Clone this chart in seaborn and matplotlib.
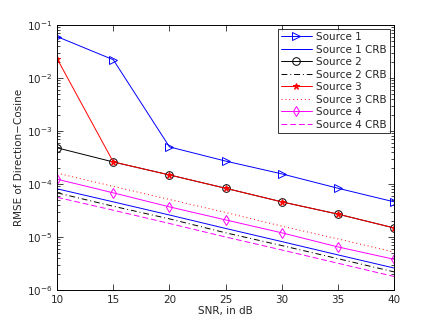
import numpy as np
import pandas as pd
import seaborn as sns
import matplotlib.pyplot as plt
from matplotlib.ticker import LogLocator, NullFormatter, MultipleLocator

snr = [10, 15, 20, 25, 30, 35, 40]

src1 = [6.0e-2, 2.2e-2, 5.0e-4, 2.7e-4, 1.55e-4, 8.3e-5, 4.6e-5]
src1_crb = [8.1e-5, 4.6e-5, 2.6e-5, 1.45e-5, 8.2e-6, 4.6e-6, 2.6e-6]
src2 = [4.8e-4, 2.6e-4, 1.48e-4, 8.3e-5, 4.6e-5, 2.7e-5, 1.48e-5]
src2_crb = [6.8e-5, 3.8e-5, 2.2e-5, 1.2e-5, 6.9e-6, 3.9e-6, 2.2e-6]
src3 = [2.3e-2, 2.6e-4, 1.48e-4, 8.3e-5, 4.6e-5, 2.7e-5, 1.48e-5]
src3_crb = [1.6e-4, 9.0e-5, 5.1e-5, 2.9e-5, 1.6e-5, 9.2e-6, 5.2e-6]
src4 = [1.23e-4, 6.8e-5, 3.7e-5, 2.1e-5, 1.2e-5, 6.5e-6, 3.8e-6]
src4_crb = [5.6e-5, 3.2e-5, 1.8e-5, 1.0e-5, 5.7e-6, 3.2e-6, 1.8e-6]

series = [
    ("Source 1", src1, "blue", "-", ">"),
    ("Source 1 CRB", src1_crb, "blue", "-", None),
    ("Source 2", src2, "black", "-", "o"),
    ("Source 2 CRB", src2_crb, "black", (0, (6, 3, 1, 3)), None),
    ("Source 3", src3, "red", "-", "*"),
    ("Source 3 CRB", src3_crb, "red", (0, (1, 3)), None),
    ("Source 4", src4, "magenta", "-", "d"),
    ("Source 4 CRB", src4_crb, "magenta", (0, (6, 3)), None),
]

sns.set_style("ticks")
plt.rcParams["font.family"] = ["DejaVu Sans"]
plt.rcParams["font.size"] = 7.5

fig = plt.figure(figsize=(4.36, 3.27), dpi=100)
ax = fig.add_axes([0.131, 0.113, 0.773, 0.811])

for name, vals, color, ls, marker in series:
    df = pd.DataFrame({"snr": snr, "rmse": vals})
    kw = dict(marker=marker, markersize=5.5, markerfacecolor="none",
              markeredgecolor=color, markeredgewidth=0.7) if marker else {}
    if marker == "*":
        kw["markerfacecolor"] = color
        kw["markersize"] = 5
    sns.lineplot(data=df, x="snr", y="rmse", ax=ax, color=color,
                 linestyle=ls, linewidth=0.7, label=name, **kw)

ax.set_yscale("log")
ax.set_xlim(10, 40)
ax.set_ylim(1e-6, 1e-1)
ax.xaxis.set_major_locator(MultipleLocator(5))
ax.yaxis.set_major_locator(LogLocator(base=10, numticks=10))
ax.yaxis.set_minor_locator(LogLocator(base=10, subs=np.arange(2, 10), numticks=20))
ax.yaxis.set_minor_formatter(NullFormatter())
ax.tick_params(which="both", direction="in", top=True, right=True,
               labelsize=7.5, width=0.6)
ax.tick_params(which="major", length=4)
ax.tick_params(which="minor", length=2)
for s in ax.spines.values():
    s.set_linewidth(0.7)
    s.set_color("black")

ax.set_xlabel("SNR, in dB", fontsize=7.5, labelpad=1)
ax.set_ylabel("RMSE of Direction\u2212Cosine", fontsize=7.5, labelpad=2)

leg = ax.legend(loc="upper right", fontsize=7.5, frameon=True, fancybox=False,
                edgecolor="black", handlelength=3.0, labelspacing=0.24,
                borderpad=0.3, handletextpad=0.4, borderaxespad=0.4)
leg.get_frame().set_linewidth(0.7)

fig.savefig("out.png", dpi=100)
